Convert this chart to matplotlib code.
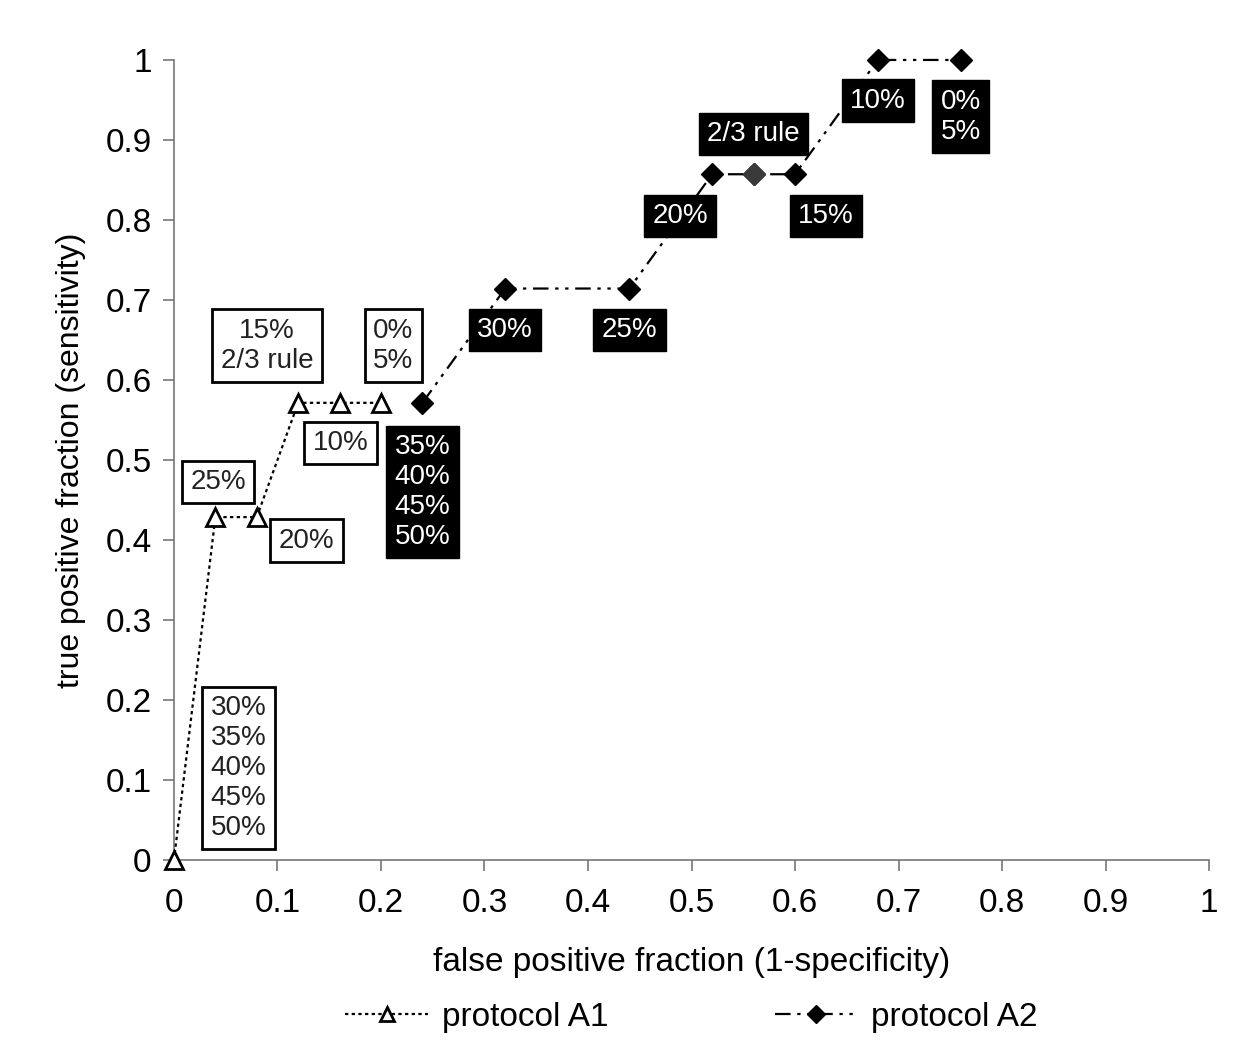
import numpy as np
import matplotlib.pyplot as plt

plt.rcParams['font.family'] = ['Liberation Sans', 'DejaVu Sans']

# protocol A1
a1_x = [0.0, 0.04, 0.08, 0.12, 0.16, 0.20]
a1_y = [0.0, 3/7, 3/7, 4/7, 4/7, 4/7]
# protocol A2
a2_x = [0.24, 0.32, 0.44, 0.52, 0.56, 0.60, 0.68, 0.76]
a2_y = [4/7, 5/7, 5/7, 6/7, 6/7, 6/7, 1.0, 1.0]

# threshold labels (text, x, y)
a1_labels = [("15%\n2/3 rule", 0.090, 0.643), ("0%\n5%", 0.212, 0.643),
             ("10%", 0.161, 0.521), ("25%", 0.0425, 0.4725),
             ("20%", 0.128, 0.399), ("30%\n35%\n40%\n45%\n50%", 0.0625, 0.115)]
a2_labels = [("35%\n40%\n45%\n50%", 0.24, 0.46), ("30%", 0.32, 0.6625),
             ("25%", 0.44, 0.6625), ("20%", 0.489, 0.805),
             ("2/3 rule", 0.56, 0.9075), ("15%", 0.63, 0.805),
             ("10%", 0.68, 0.949), ("0%\n5%", 0.76, 0.929)]

ticks = np.round(np.arange(0, 1.01, 0.1), 1)
tick_labels = ["0" if t == 0 else ("1" if t == 1 else str(t)) for t in ticks]

fig = plt.figure(figsize=(12.48, 10.63), dpi=100)
ax = fig.add_axes([0.1394, 0.191, 0.8294, 0.7526])

ax.plot(a1_x, a1_y, color='black', linestyle=(0, (1.5, 1.5)), linewidth=1.6,
        marker='^', markersize=13, markerfacecolor='white', markeredgecolor='black',
        markeredgewidth=2, label='protocol A1', zorder=3)
ax.plot(a2_x, a2_y, color='black', linestyle=(0, (7, 3, 1.5, 3, 1.5, 3)),
        linewidth=1.6, marker='D', markersize=11, markerfacecolor='black',
        markeredgecolor='black', label='protocol A2', zorder=3)
# the middle point on the 0.857 step looks a bit lighter in the original
ax.plot(a2_x[4], a2_y[4], marker='D', markersize=11, color='#3a3a3a', zorder=3.5)

for txt, x, y in a1_labels:
    ax.text(x, y, txt, ha='center', va='center', fontsize=20, linespacing=1.2,
            color='#222222', zorder=4,
            bbox=dict(boxstyle='square,pad=0.3', fc='white', ec='black', lw=2))
for txt, x, y in a2_labels:
    ax.text(x, y, txt, ha='center', va='center', fontsize=20, linespacing=1.2,
            color='white', zorder=4,
            bbox=dict(boxstyle='square,pad=0.3', fc='black', ec='black', lw=1))

ax.set_xlim(0, 1)
ax.set_ylim(0, 1)
ax.set_xticks(ticks)
ax.set_xticklabels(tick_labels)
ax.set_yticks(ticks)
ax.set_yticklabels(tick_labels)
ax.tick_params(axis='both', labelsize=24, length=8, width=1.2, color='#777777')
ax.tick_params(axis='x', pad=12)
ax.tick_params(axis='y', pad=8)
for s in ['top', 'right']:
    ax.spines[s].set_visible(False)
for s in ['left', 'bottom']:
    ax.spines[s].set_color('#777777')
    ax.spines[s].set_linewidth(1.2)

ax.set_xlabel('false positive fraction (1-specificity)', fontsize=24, labelpad=20)
ax.set_ylabel('true positive fraction (sensitivity)', fontsize=23, labelpad=14)

fig.legend(loc='center', bbox_to_anchor=(0.554, 0.043), ncol=2, frameon=False,
           fontsize=24, columnspacing=5, handlelength=2.5, handletextpad=0.4,
           markerscale=0.8)

for line in ax.lines:
    line.set_clip_on(False)

fig.savefig('out.png', dpi=100)
